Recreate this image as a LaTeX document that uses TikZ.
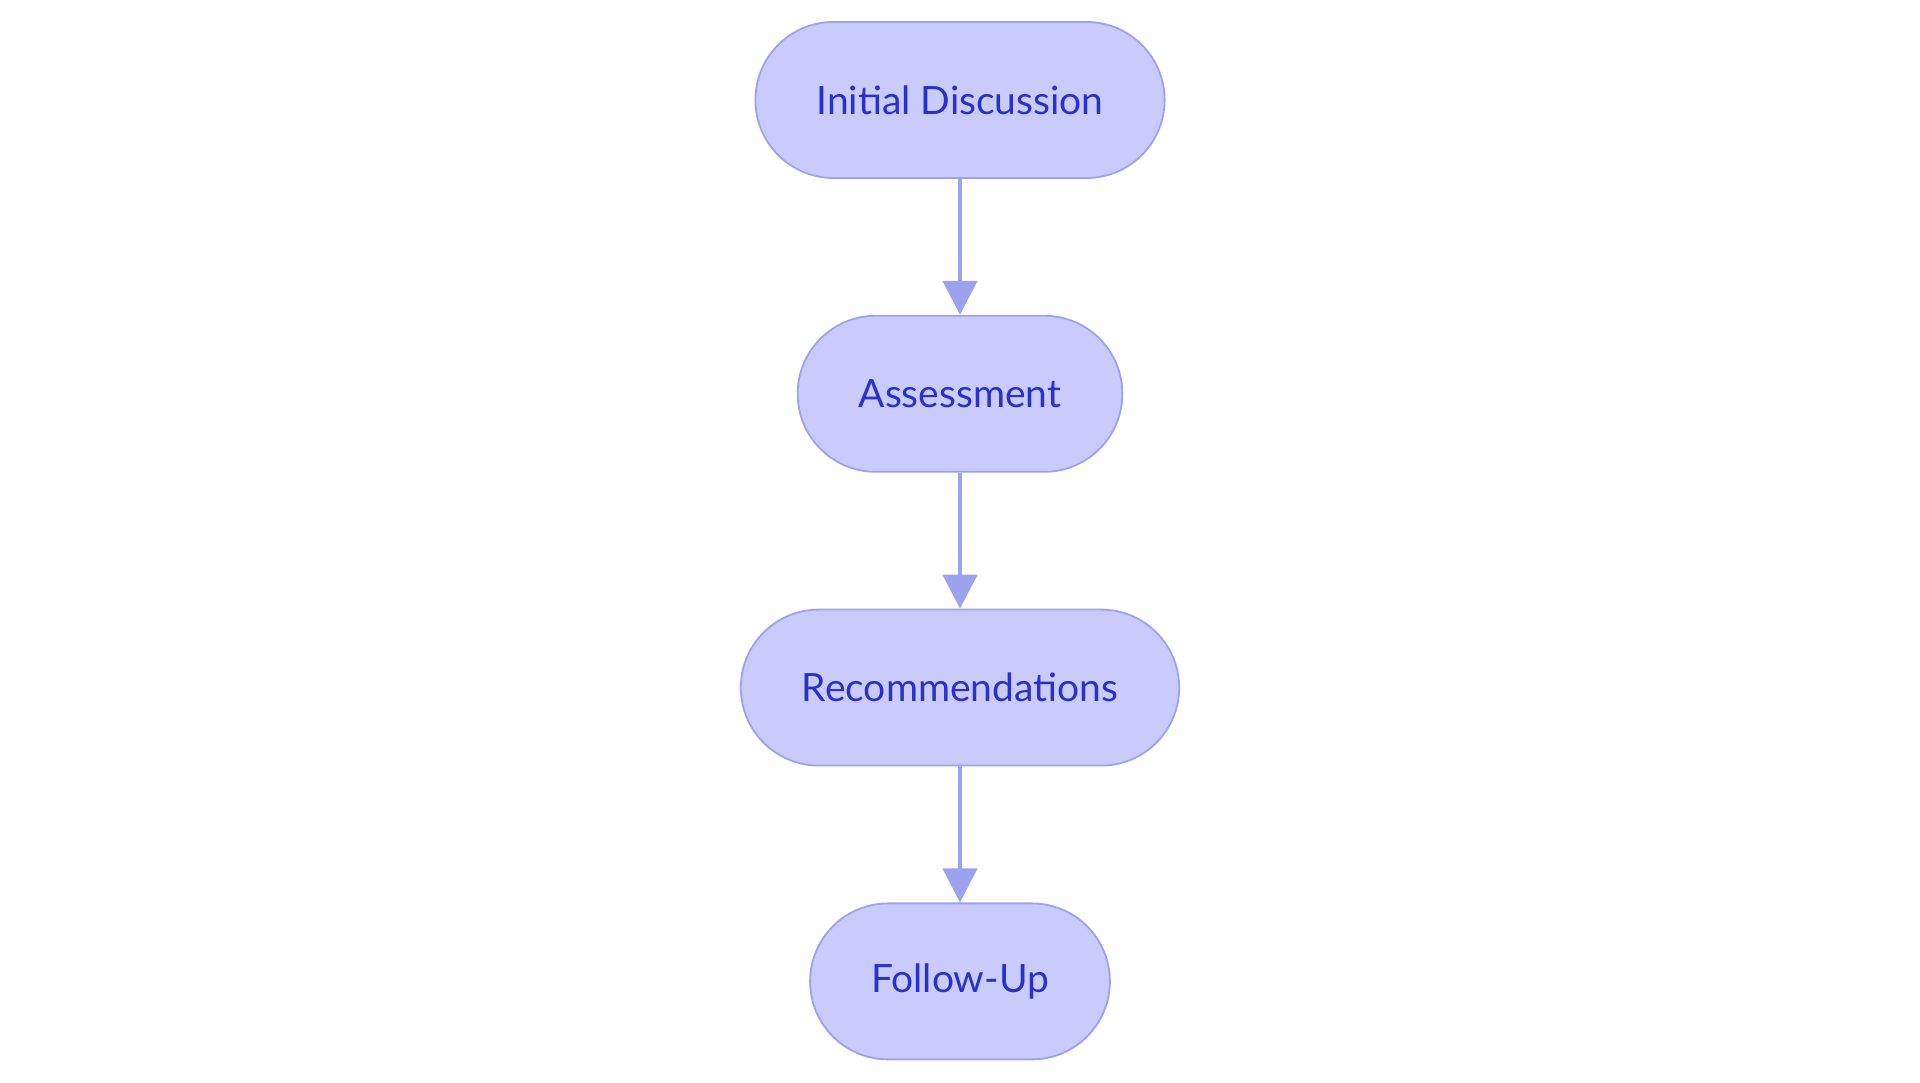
\documentclass[tikz,border=0pt]{standalone}
\usepackage{fontspec}
\setmainfont{Lato}
\usetikzlibrary{positioning,arrows.meta}
\definecolor{stepfill}{HTML}{C9CBFD}
\definecolor{stepline}{HTML}{9DA2EE}
\definecolor{steptext}{HTML}{2B30C8}
\begin{document}
\begin{tikzpicture}[x=1pt,y=1pt,
    stepbox/.style={draw=stepline, line width=1.8pt, fill=stepfill, text=steptext,
        rounded corners=78pt, minimum height=156pt, inner xsep=61pt,
        font=\fontsize{39}{46}\selectfont},
    flow/.style={draw=stepline, line width=4.5pt, -{Triangle[width=34pt,length=34pt]}},
    node distance=136pt]
\useasboundingbox (0,0) rectangle (1920,1083);

\node[stepbox] (talk) at (960,983) {Initial Discussion};
\node[stepbox, below=of talk] (assess) {Assessment};
\node[stepbox, below=of assess] (advice) {Recommendations};
\node[stepbox, below=of advice] (follow) {Follow-Up};

\draw[flow] (talk) -- (assess);
\draw[flow] (assess) -- (advice);
\draw[flow] (advice) -- (follow);

\end{tikzpicture}
\end{document}
